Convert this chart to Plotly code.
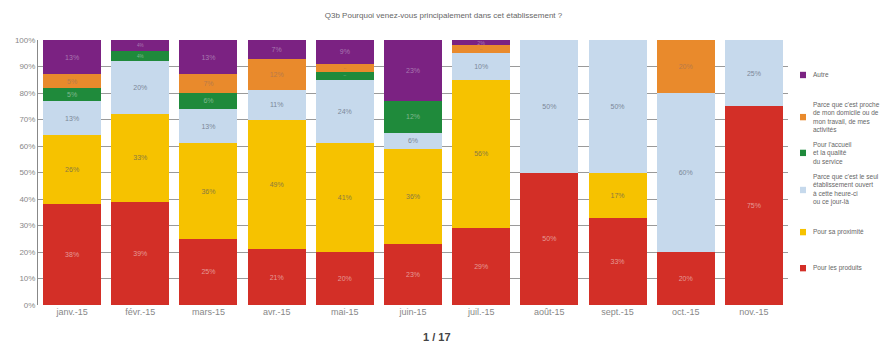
import plotly.graph_objects as go

# Survey months
months = ["janv.-15", "févr.-15", "mars-15", "avr.-15", "mai-15", "juin-15",
          "juil.-15", "août-15", "sept.-15", "oct.-15", "nov.-15"]

# Share of answers per reason (%), stacked bottom to top
produits = [38, 39, 25, 21, 20, 23, 29, 50, 33, 20, 75]
proximite = [26, 33, 36, 49, 41, 36, 56, None, 17, None, None]
seul_ouvert = [13, 20, 13, 11, 24, 6, 10, 50, 50, 60, 25]
accueil = [5, 4, 6, None, 3, 12, None, None, None, None, None]
trajet = [5, None, 7, 12, 3, None, 3, None, None, 20, None]
autre = [13, 4, 13, 7, 9, 23, 2, None, None, None, None]

series = [
    ("Pour les produits", produits, "#d32f27", "#e59a96"),
    ("Pour sa proximité", proximite, "#f6c200", "#8a7a40"),
    ("Parce que c'est le seul<br>établissement ouvert<br>à cette heure-ci<br>ou ce jour-là", seul_ouvert, "#c6d9ec", "#7c8898"),
    ("Pour l'accueil<br>et la qualité<br>du service", accueil, "#1f8a3b", "#7fb88f"),
    ("Parce que c'est proche<br>de mon domicile ou de<br>mon travail, de mes<br>activités", trajet, "#e98a2c", "#b87a4a"),
    ("Autre", autre, "#7b2282", "#a878b0"),
]

# Vertical position of each legend entry (paper units), bottom entry first
legend_y = [0.139, 0.275, 0.434, 0.574, 0.709, 0.868]

fig = go.Figure()
for i, (name, vals, color, txtcolor) in enumerate(series):
    fig.add_trace(go.Bar(
        x=months, y=vals, name=name.replace("<br>", " "), showlegend=False,
        marker=dict(color=color, line=dict(width=0)),
        text=[f"{v}%" if v else "" for v in vals],
        textposition="inside", insidetextanchor="middle",
        textfont=dict(size=7, color=txtcolor),
        hoverinfo="skip",
    ))

# Hand-placed legend: a small square swatch and its label for each reason
sw_x0, sw_x1 = 1.016, 1.024
for (name, vals, color, txtcolor), ly in zip(series, legend_y):
    fig.add_shape(type="rect", xref="paper", yref="paper",
                  x0=sw_x0, x1=sw_x1, y0=ly - 0.012, y1=ly + 0.012,
                  fillcolor=color, line=dict(width=0))
    fig.add_annotation(text=name, xref="paper", yref="paper",
                       x=1.031, y=ly, xanchor="left", yanchor="middle",
                       align="left", showarrow=False,
                       font=dict(size=6.5, color="#666666"))

fig.update_layout(
    barmode="stack",
    bargap=0.15,
    width=887, height=347,
    margin=dict(l=38, r=99, t=40, b=42, autoexpand=False),
    paper_bgcolor="white", plot_bgcolor="white",
    font=dict(family="Liberation Sans, Arial, sans-serif", color="#777777"),
    title=dict(text="Q3b Pourquoi venez-vous principalement dans cet établissement ?",
               x=0.5, xanchor="center", y=0.955, yanchor="middle",
               font=dict(size=8, color="#666666")),
    showlegend=False,
    xaxis=dict(tickfont=dict(size=9, color="#888888"), showline=False,
               ticks="", fixedrange=True),
    yaxis=dict(range=[0, 100], dtick=10, ticksuffix="%",
               tickfont=dict(size=8, color="#888888"),
               showgrid=True, gridcolor="#9a9a9a", gridwidth=1,
               showline=True, linecolor="#888888", linewidth=1,
               zeroline=False, fixedrange=True),
)

fig.add_annotation(text="<b>1 / 17</b>", xref="paper", yref="paper",
                   x=(437 - 38) / 750, y=-0.12, xanchor="center", yanchor="middle",
                   showarrow=False, font=dict(size=11, color="#444444"))

fig.write_html("out.html")
